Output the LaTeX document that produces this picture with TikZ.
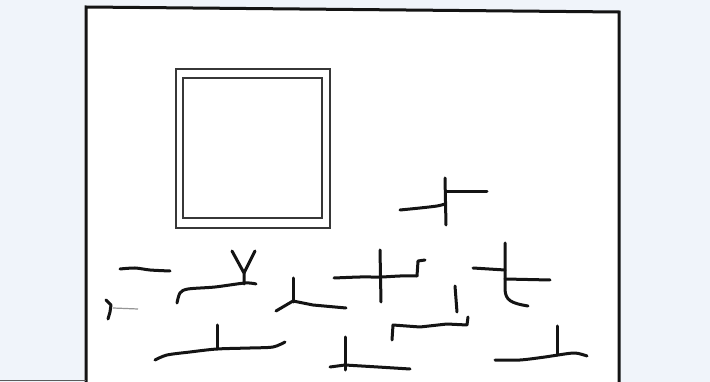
\documentclass[tikz,border=0pt]{standalone}
\usetikzlibrary{calc}
\definecolor{scanbg}{RGB}{240,244,250}
\definecolor{ink}{RGB}{20,20,20}
\begin{document}
\begin{tikzpicture}[x=1pt,y=-1pt,
  stroke/.style={draw=ink,line width=3pt,line cap=round,line join=round},
  frame/.style={draw=ink,line width=3pt},
  dbl/.style={draw=ink!85,line width=2.6pt}]
\useasboundingbox (0,0) rectangle (710,382);
\fill[scanbg] (0,0) rectangle (710,382);
\fill[white] (86,8) -- (619,12) -- (619,382) -- (86,382) -- cycle;
% frame
\draw[frame] (86,382) -- (86,7) -- (619,12) -- (619,382);
\draw[ink!70,line width=1pt] (0,380) -- (86,380);
% double square
\draw[dbl] (176,69) rectangle (330,228);
\draw[dbl] (183,78) rectangle (322,218);
% strokes
\draw[stroke] plot[smooth] coordinates {(120,269) (135,268) (150,270) (170,271)};
\draw[stroke] (106,300) -- (111,305) -- (110,312) -- (108,319);
\draw[ink!45,line width=1.2pt] (113,308) -- (138,309);
% wavy with Y
\draw[stroke] plot[smooth] coordinates {(177,303) (180,293) (188,289) (215,287) (245,283) (256,284)};
\draw[stroke] (244,284) -- (244,273) -- (232,251);
\draw[stroke] (244,273) -- (255,251);
% small tri figure
\draw[stroke] (293,278) -- (293,302);
\draw[stroke] (276,311) -- (293,301) -- (313,305) -- (346,308);
% bottom-left long wavy
\draw[stroke] plot[smooth] coordinates {(155,360) (167,355) (190,352) (217,349) (250,348) (273,347) (285,342)};
\draw[stroke] (217,325) -- (217,349);
% top right figure
\draw[stroke] plot[smooth] coordinates {(400,210) (420,208) (437,206) (445,204)};
\draw[stroke] (445,178) -- (446,225);
\draw[stroke] (446,192) -- (487,192);
% middle figure
\draw[stroke] plot[smooth] coordinates {(334,278) (360,277) (381,277) (400,276) (417,276)};
\draw[stroke] (380,250) -- (381,302);
\draw[stroke] (417,276) -- (418,261) -- (425,260);
% small vertical
\draw[stroke] (455,286) -- (457,312);
% bracket line
\draw[stroke] (392,340) -- (393,325) -- (420,327) -- (447,324) -- (467,325) -- (468,317);
% right figure
\draw[stroke] (473,268) -- (505,270);
\draw[stroke] (505,243) -- (505,290) .. controls (506,300) and (510,303) .. (528,306);
\draw[stroke] (505,279) -- (550,280);
% bottom middle figure
\draw[stroke] (345,337) -- (345,370);
\draw[stroke] (330,367) -- (345,365) -- (378,367) -- (410,369);
% bottom right figure
\draw[stroke] plot[smooth] coordinates {(495,360) (520,360) (545,357) (558,355) (575,353) (587,356)};
\draw[stroke] (557,326) -- (557,355);
\end{tikzpicture}
\end{document}
